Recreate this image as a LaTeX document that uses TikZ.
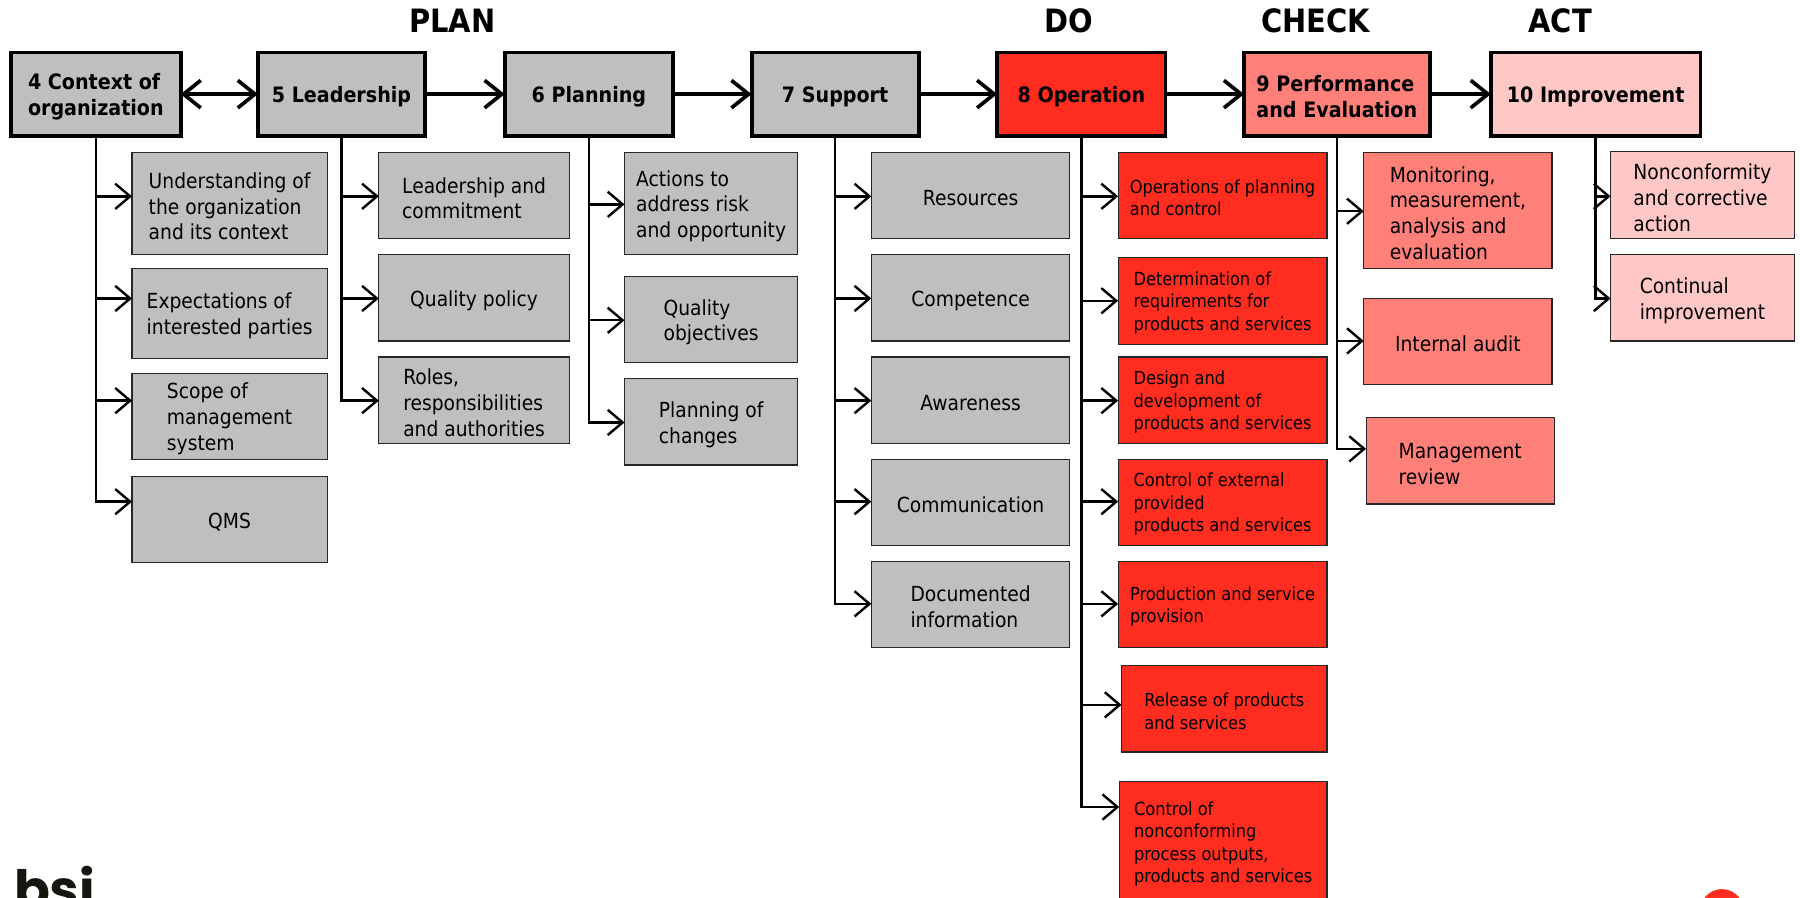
\documentclass[tikz,border=0pt]{standalone}
\usepackage{fontspec}
\usepackage{xcolor}
\usepackage{tikz}
\usetikzlibrary{arrows.meta, positioning}
\setmainfont{DejaVu Sans Condensed}
\newfontfamily\logofont{Poppins}
\definecolor{planfill}{RGB}{191, 191, 191}
\definecolor{dofill}{RGB}{255, 45, 32}
\definecolor{checkfill}{RGB}{255, 127, 121}
\definecolor{actfill}{RGB}{255, 200, 199}
\definecolor{logoink}{RGB}{22, 22, 14}
\newcommand{\topstrut}{\rule{0pt}{1em}}

\begin{document}
\begin{tikzpicture}[
        x=1pt, y=-1pt,
        clause/.style={rectangle, draw=black, line width=3.4pt, outer sep=0pt, minimum height=72.6pt, inner sep=0pt, align=left, font=\fontsize{18.5}{23}\selectfont\bfseries, execute at begin node=\topstrut},
        phase/.style={inner sep=0pt, font=\fontsize{28}{30}\selectfont\bfseries},
        item/.style={rectangle, draw=black!85, line width=1pt, outer sep=0pt, minimum height=75pt, inner sep=0pt, align=left, font=\fontsize{18.1}{22.5}\selectfont, execute at begin node=\topstrut},
        planitem/.style={item, fill=planfill},
        doitem/.style={item, fill=dofill, minimum width=182pt, font=\fontsize{15.7}{19.6}\selectfont},
        checkitem/.style={item, fill=checkfill, minimum width=164pt},
        actitem/.style={item, fill=actfill, minimum width=160pt},
        link/.style={line width=3.2pt, -{Straight Barb[length=15pt, width=24pt]}},
        twoway/.style={line width=3.2pt, {Straight Barb[length=15pt, width=24pt]}-{Straight Barb[length=15pt, width=24pt]}},
        branch/.style={line width=2.1pt, -{Straight Barb[length=13pt, width=22pt]}}
    ]
        \useasboundingbox (0,0) rectangle (1568,782);
        \clip (0,0) rectangle (1568,782);

        % Main clauses
        \node (context) [clause, fill=planfill, minimum width=147.6pt, anchor=north west] at (9.7,45.7) {\topstrut 4 Context of\\organization};
        \node (leadership) [clause, fill=planfill, minimum width=145.6pt, right=67.4pt of context] {5 Leadership};
        \node (planning) [clause, fill=planfill, minimum width=146.6pt, right=69.4pt of leadership] {6 Planning};
        \node (support) [clause, fill=planfill, minimum width=145.6pt, right=68.4pt of planning] {7 Support};
        \node (operation) [clause, fill=dofill, minimum width=146.6pt, right=68.4pt of support] {8 Operation};
        \node (performance) [clause, fill=checkfill, minimum width=161.6pt, right=68.4pt of operation] {\topstrut 9 Performance\\and Evaluation};
        \node (improvement) [clause, fill=actfill, minimum width=182.6pt, right=53.4pt of performance] {10 Improvement};

        % PDCA headings
        \node (plan) [phase] at (394,18) {PLAN};
        \node (do) [phase] at (931,18) {DO};
        \node (check) [phase] at (1146,18) {CHECK};
        \node (act) [phase] at (1359,18) {ACT};

        % Clause 4
        \node (understanding) [planitem, minimum width=170pt, minimum height=89pt, anchor=north west] at (115,133) {\topstrut Understanding of\\the organization\\and its context};
        \node (expectations) [planitem, minimum width=170pt, minimum height=78pt, below=12pt of understanding] {\topstrut Expectations of\\interested parties};
        \node (scope) [planitem, minimum width=170pt, below=13pt of expectations] {\topstrut Scope of\\management\\system};
        \node (qms) [planitem, minimum width=170pt, below=15pt of scope] {QMS};

        % Clause 5
        \node (commitment) [planitem, minimum width=166pt, anchor=north west] at (330,133) {\topstrut Leadership and\\commitment};
        \node (policy) [planitem, minimum width=166pt, below=14pt of commitment] {Quality policy};
        \node (roles) [planitem, minimum width=166pt, below=14pt of policy] {\topstrut Roles,\\responsibilities\\and authorities};

        % Clause 6
        \node (actions) [planitem, minimum width=151pt, minimum height=89pt, anchor=north west] at (544,133) {\topstrut Actions to\\address risk\\and opportunity};
        \node (objectives) [planitem, minimum width=151pt, below=19pt of actions] {\topstrut Quality\\objectives};
        \node (changes) [planitem, minimum width=151pt, below=14pt of objectives] {\topstrut Planning of\\changes};

        % Clause 7
        \node (resources) [planitem, minimum width=173pt, anchor=north west] at (759,133) {Resources};
        \node (competence) [planitem, minimum width=173pt, below=14pt of resources] {Competence};
        \node (awareness) [planitem, minimum width=173pt, below=14pt of competence] {Awareness};
        \node (communication) [planitem, minimum width=173pt, below=14pt of awareness] {Communication};
        \node (documented) [planitem, minimum width=173pt, below=14pt of communication] {\topstrut Documented\\information};

        % Clause 8
        \node (control) [doitem, anchor=north west] at (974,133) {\topstrut Operations of planning\\and control};
        \node (requirements) [doitem, minimum height=76pt, below=16pt of control] {\topstrut Determination of\\requirements for\\products and services};
        \node (design) [doitem, below=11pt of requirements] {\topstrut Design and\\development of\\products and services};
        \node (external) [doitem, below=14pt of design] {\topstrut Control of external\\provided\\products and services};
        \node (production) [doitem, below=14pt of external] {\topstrut Production and service\\provision};
        \node (release) [doitem, minimum width=179pt, anchor=north west] at (977,580) {\topstrut Release of products\\and services};
        \node (nonconforming) [doitem, minimum width=181pt, minimum height=105pt, anchor=north west] at (975,681) {\topstrut Control of\\nonconforming\\process outputs,\\products and services};

        % Clause 9
        \node (monitoring) [checkitem, minimum height=101pt, anchor=north west] at (1188,133) {\topstrut Monitoring,\\measurement,\\analysis and\\evaluation};
        \node (audit) [checkitem, below=26pt of monitoring] {Internal audit};
        \node (review) [checkitem, anchor=north west] at (1190,364) {\topstrut Management\\review};

        % Clause 10
        \node (corrective) [actitem, minimum height=76pt, anchor=north west] at (1403,132) {\topstrut Nonconformity\\and corrective\\action};
        \node (continual) [actitem, below=14pt of corrective] {\topstrut Continual\\improvement};

        % Logo
        \node (bsi) [inner sep=0pt, anchor=base west, text=logoink, font=\fontsize{46}{46}\selectfont\logofont\bfseries] at (12,791) {bsi};
        \node (dot) [circle, fill=dofill, minimum size=38pt, inner sep=0pt] at (1500,793.5) {};

        % Main arrows
        \draw [twoway] (context) -- (leadership);
        \draw [link] (leadership) -- (planning);
        \draw [link] (planning) -- (support);
        \draw [link] (support) -- (operation);
        \draw [link] (operation) -- (performance);
        \draw [link] (performance) -- (improvement);

        % Branches
        \draw [branch] (context.south) |- ([yshift=-38pt]understanding.north west);
        \draw [branch] (context.south) |- ([yshift=-26pt]expectations.north west);
        \draw [branch] (context.south) |- ([yshift=-24pt]scope.north west);
        \draw [branch] (context.south) |- ([yshift=-22pt]qms.north west);

        \draw [branch] (leadership.south) |- ([yshift=-38pt]commitment.north west);
        \draw [branch] (leadership.south) |- ([yshift=-38pt]policy.north west);
        \draw [branch] (leadership.south) |- ([yshift=-38pt]roles.north west);

        \draw [branch] (planning.south) |- ([yshift=-45pt]actions.north west);
        \draw [branch] (planning.south) |- ([yshift=-38pt]objectives.north west);
        \draw [branch] (planning.south) |- ([yshift=-38pt]changes.north west);

        \draw [branch] (support.south) |- ([yshift=-38pt]resources.north west);
        \draw [branch] (support.south) |- ([yshift=-38pt]competence.north west);
        \draw [branch] (support.south) |- ([yshift=-38pt]awareness.north west);
        \draw [branch] (support.south) |- ([yshift=-37pt]communication.north west);
        \draw [branch] (support.south) |- ([yshift=-37pt]documented.north west);

        \draw [branch] (operation.south) |- ([yshift=-38pt]control.north west);
        \draw [branch] (operation.south) |- ([yshift=-38pt]requirements.north west);
        \draw [branch] (operation.south) |- ([yshift=-38pt]design.north west);
        \draw [branch] (operation.south) |- ([yshift=-37pt]external.north west);
        \draw [branch] (operation.south) |- ([yshift=-37pt]production.north west);
        \draw [branch] (operation.south) |- ([yshift=-34pt]release.north west);
        \draw [branch] (operation.south) |- ([yshift=-22pt]nonconforming.north west);

        \draw [branch] (performance.south) |- ([yshift=-51pt]monitoring.north west);
        \draw [branch] (performance.south) |- ([yshift=-37pt]audit.north west);
        \draw [branch] (performance.south) |- ([yshift=-27pt]review.north west);

        \draw [branch] (improvement.south) |- ([yshift=-39pt]corrective.north west);
        \draw [branch] (improvement.south) |- ([yshift=-38pt]continual.north west);
    \end{tikzpicture}
\end{document}
